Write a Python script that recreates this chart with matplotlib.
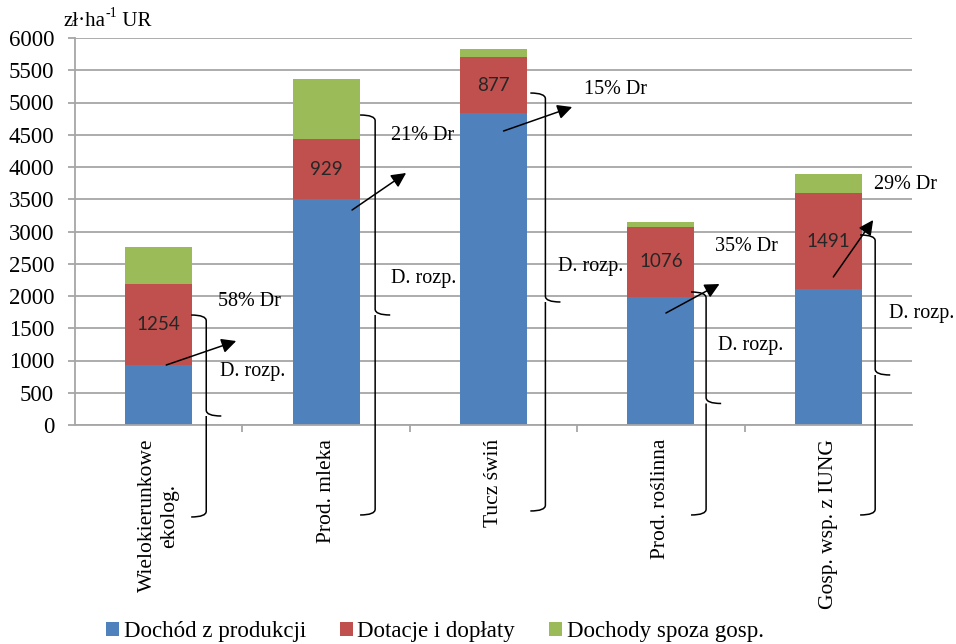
import matplotlib
matplotlib.use("Agg")
import matplotlib.pyplot as plt
from matplotlib.path import Path
from matplotlib.patches import PathPatch, Patch

plt.rcParams["font.family"] = ["Liberation Serif", "DejaVu Serif"]

# ---- data ----
categories = ["Wielokierunkowe\nekolog.", "Prod. mleka", "Tucz świń",
              "Prod. roślinna", "Gosp. wsp. z IUNG"]
dochod_produkcja = [927, 3499, 4830, 1990, 2104]
dotacje = [1254, 929, 877, 1076, 1491]
dochody_spoza = [574, 936, 115, 77, 292]
series_names = ["Dochód z produkcji", "Dotacje i dopłaty", "Dochody spoza gosp."]
y_ticks = [0, 500, 1000, 1500, 2000, 2500, 3000, 3500, 4000, 4500,
           5000, 5500, 6000]

# share of subsidies in disposable income
dr_labels = ["58% Dr", "21% Dr", "15% Dr", "35% Dr", "29% Dr"]
dr_pos = [(0.54, 1907), (1.575, 4496), (2.727, 5209), (3.51, 2760), (4.46, 3721)]
rozp_label = "D. rozp."
rozp_pos = [(0.56, 822), (1.585, 2264), (2.578, 2465), (3.534, 1240), (4.56, 1736)]
arrow_tail = [(0.045, 930), (1.155, 3333), (2.06, 4558), (3.03, 1736), (4.03, 2295)]
arrow_head = [(0.463, 1302), (1.478, 3907), (2.47, 4930), (3.35, 2186), (4.268, 3178)]
# curly braces: x position, top, bottom (bottom reaches below the axis)
brace_x = [0.284, 1.293, 2.31, 3.27, 4.28]
brace_top = [1705, 4806, 5147, 2062, 2946]
brace_bottom = [-1426, -1395, -1333, -1395, -1395]

colors = ["#4F81BD", "#C0504D", "#9BBB59"]
grid_c = "#A6A6A6"

fig = plt.figure(figsize=(9.56, 6.44), dpi=100)
ax = fig.add_axes([75 / 956, 1 - 425 / 644, (912 - 75) / 956, (425 - 38) / 644])

x = list(range(len(categories)))
w = 0.4
bottom2 = [a + b for a, b in zip(dochod_produkcja, dotacje)]
ax.bar(x, dochod_produkcja, w, color=colors[0], zorder=2)
red = ax.bar(x, dotacje, w, bottom=dochod_produkcja, color=colors[1], zorder=2)
ax.bar(x, dochody_spoza, w, bottom=bottom2, color=colors[2], zorder=2)
ax.bar_label(red, labels=[str(v) for v in dotacje], label_type="center",
             fontsize=13.5, color="#262626", family="Lato", zorder=3)

ax.set_xlim(-0.5, len(categories) - 0.5)
ax.set_ylim(0, 6000)
ax.set_yticks(y_ticks)
ax.set_yticklabels([str(t) for t in y_ticks], fontsize=16.5)
ax.yaxis.grid(True, color=grid_c, linewidth=1.3, zorder=0)
ax.set_axisbelow(True)
ax.tick_params(axis="y", length=5, width=1.3, color=grid_c, pad=10)
for s in ["top", "right"]:
    ax.spines[s].set_visible(False)
for s in ["left", "bottom"]:
    ax.spines[s].set_color(grid_c)
    ax.spines[s].set_linewidth(1.3)

ax.set_xticks(x)
ax.set_xticklabels(categories, rotation=90, fontsize=15.5, ha="center", va="top",
                   multialignment="center")
ax.tick_params(axis="x", length=0, pad=10)
ax.set_xticks([i + 0.5 for i in x[:-1]], minor=True)
ax.tick_params(axis="x", which="minor", length=5, width=1.3, color=grid_c)

# annotations
for lab, (tx, ty) in zip(dr_labels, dr_pos):
    ax.text(tx, ty, lab, fontsize=14.5, ha="center", va="center", zorder=4)
for tx, ty in rozp_pos:
    ax.text(tx, ty, rozp_label, fontsize=14.5, ha="center", va="center", zorder=4)
for t, h in zip(arrow_tail, arrow_head):
    ax.annotate("", xy=h, xytext=t,
                arrowprops=dict(arrowstyle="-|>", mutation_scale=22, lw=1.1,
                                color="black", shrinkA=0, shrinkB=0),
                zorder=5)

hook = 0.09   # hook width in category units
notch = 0.09
r = 90        # corner size in value units
for bx, top, bot in zip(brace_x, brace_top, brace_bottom):
    mid = (top + bot) / 2
    verts = [(bx - hook, top), (bx, top), (bx, top - r),
             (bx, mid + r), (bx, mid), (bx + notch, mid),
             (bx, mid), (bx, mid - r),
             (bx, bot + r), (bx, bot), (bx - hook, bot)]
    codes = [Path.MOVETO, Path.CURVE3, Path.CURVE3,
             Path.LINETO, Path.CURVE3, Path.CURVE3,
             Path.MOVETO, Path.LINETO,
             Path.LINETO, Path.CURVE3, Path.CURVE3]
    p = PathPatch(Path(verts, codes), fill=False, lw=1.1, edgecolor="black",
                  clip_on=False, zorder=5)
    ax.add_patch(p)

# unit label with a superscript exponent
t1 = fig.text(63 / 956, 1 - 31 / 644, "zł·ha", fontsize=15,
              ha="left", va="bottom")
sup = ax.annotate("-1", xy=(1, 0.58), xycoords=t1, fontsize=10,
                  ha="left", va="bottom", annotation_clip=False)
ax.annotate(" UR", xy=(1, 0), xycoords=(sup, t1), fontsize=15,
            ha="left", va="bottom", annotation_clip=False)

handles = [Patch(facecolor=c) for c in colors]
fig.legend(handles, series_names, loc="center", bbox_to_anchor=(0.455, 12 / 644),
           ncol=3, frameon=False, fontsize=16.5, handlelength=0.55,
           handleheight=0.55, handletextpad=0.2, columnspacing=1.5,
           borderpad=0, borderaxespad=0)

fig.savefig("out.png", dpi=100)
